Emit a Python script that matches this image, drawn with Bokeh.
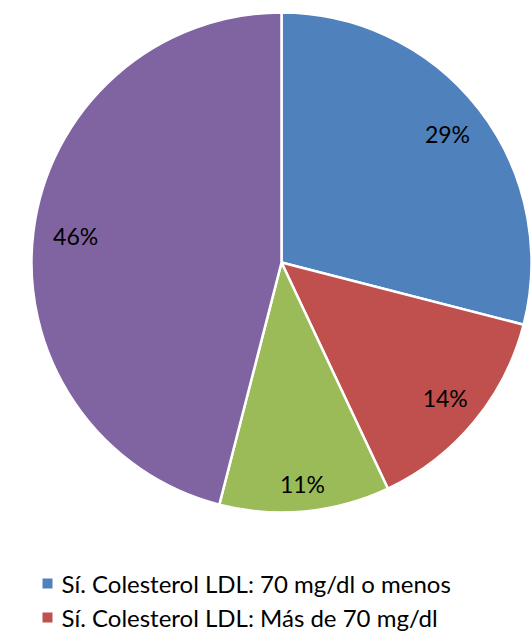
import numpy as np
from bokeh.plotting import figure
from bokeh.models import Range1d, ColumnDataSource
from bokeh.core.properties import value
from bokeh.embed import file_html
from bokeh.resources import INLINE

categories = ["Sí. Colesterol LDL: 70 mg/dl o menos",
              "Sí. Colesterol LDL: Más de 70 mg/dl",
              "Sí. Colesterol LDL: No sabe el valor",
              "No"]
values = [29, 14, 11, 46]
labels = ["29%", "14%", "11%", "46%"]
colors = ["#4F81BD", "#C0504D", "#9BBB59", "#8064A2"]

W, H = 532, 636
p = figure(width=W, height=H, output_backend="svg", toolbar_location=None,
           x_range=Range1d(0, W), y_range=Range1d(0, H), min_border=0)
p.axis.visible = False
p.grid.visible = False
p.outline_line_color = None
p.background_fill_color = "white"

cx, cy, r = 281, H - 262, 250
frac = np.array(values, dtype=float) / sum(values)
cum = np.concatenate([[0], np.cumsum(frac)])
start = np.pi / 2 - 2 * np.pi * cum[:-1]
end = np.pi / 2 - 2 * np.pi * cum[1:]
src = ColumnDataSource(dict(start=start, end=end, color=colors))
p.wedge(x=cx, y=cy, radius=r, start_angle="start", end_angle="end",
        direction="clock", fill_color="color", line_color="white", line_width=2.5,
        source=src)

mid = (start + end) / 2
lr = np.array([0.84, 0.85, 0.89, 0.83]) * r
lsrc = ColumnDataSource(dict(x=cx + lr * np.cos(mid), y=cy + lr * np.sin(mid), t=labels))
p.text(x="x", y="y", text="t", source=lsrc, text_align="center", text_baseline="middle",
       text_font=value("Lato"), text_font_size="23px", text_color="black")

# legend (only first two entries visible in the reference)
leg_y = [H - 583, H - 617]
for i in range(2):
    p.scatter(x=[47], y=[leg_y[i]], marker="square", size=10, fill_color=colors[i],
              line_color=None)
    p.text(x=[61], y=[leg_y[i]], text=[categories[i]], text_align="left",
           text_baseline="middle", text_font=value("Lato"), text_font_size="24px",
           text_color="black")

open("out.html", "w").write(file_html(p, INLINE))
